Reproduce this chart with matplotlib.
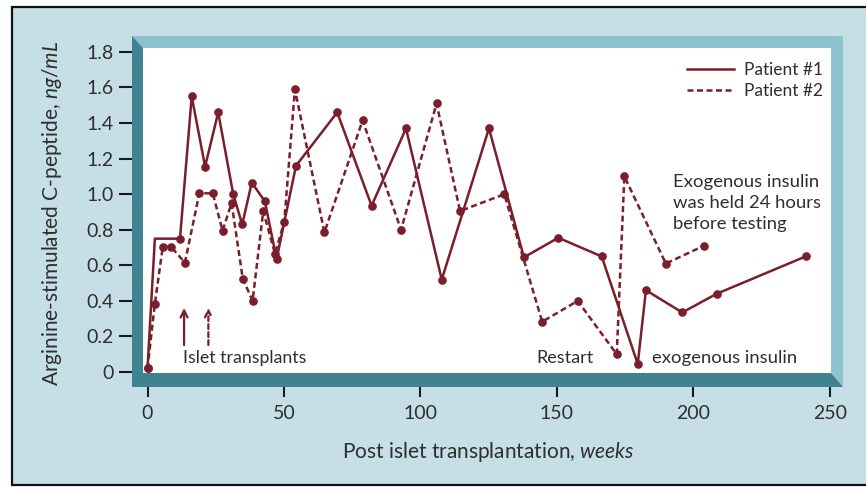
"""Arginine-stimulated C-peptide after islet transplantation, two patients."""

import matplotlib
matplotlib.use('Agg')
import matplotlib.pyplot as plt
from matplotlib.patches import Polygon, Rectangle

# weeks / ng/mL
P1_WEEKS = [0, 2.7, 11.9, 16.2, 21.1, 25.9, 31.4, 34.7, 38.2, 43.0, 47.3, 54.4, 69.5, 82.1, 94.7,
            107.8, 125.1, 137.9, 150.5, 166.4, 179.6, 182.6, 195.9, 208.5, 241.1]
P1_CPEP = [0.02, 0.75, 0.75, 1.55, 1.155, 1.46, 1.0, 0.83, 1.065, 0.96, 0.635, 1.16, 1.46, 0.935, 1.37,
           0.52, 1.37, 0.645, 0.755, 0.65, 0.045, 0.46, 0.335, 0.44, 0.65]
P2_WEEKS = [0, 2.7, 5.6, 8.6, 13.7, 19.0, 23.9, 27.5, 30.8, 34.9, 38.5, 42.4, 46.7, 50.1, 54.0, 64.8,
            78.8, 92.9, 105.9, 114.5, 130.7, 144.6, 157.6, 171.9, 174.7, 189.9, 203.8]
P2_CPEP = [0.02, 0.385, 0.705, 0.705, 0.615, 1.005, 1.005, 0.795, 0.95, 0.525, 0.40, 0.905, 0.665, 0.845,
           1.59, 0.785, 1.415, 0.80, 1.51, 0.905, 1.0, 0.283, 0.40, 0.10, 1.10, 0.61, 0.71]
TRANSPLANT_WEEKS = [13.4, 22.3]   # solid = patient 1, dashed = patient 2

X_TICKS = [0, 50, 100, 150, 200, 250]
Y_TICKS = [0, 0.2, 0.4, 0.6, 0.8, 1.0, 1.2, 1.4, 1.6, 1.8]
Y_TICK_LABELS = ['0', '0.2', '0.4', '0.6', '0.8', '1.0', '1.2', '1.4', '1.6', '1.8']

RED = '#7b1e2b'
TEXT = '#2e2e2e'
BG = '#c6dfe6'
BEVEL_LIGHT = '#8cc3ce'
BEVEL_DARK = '#3f8390'
DASH = (0, (2.4, 1.4))

W, H = 866, 487

plt.rcParams['font.family'] = ['Lato', 'DejaVu Sans']
plt.rcParams['mathtext.fontset'] = 'custom'
plt.rcParams['mathtext.rm'] = 'Lato'
plt.rcParams['mathtext.it'] = 'Lato:italic'


def px(x, y):
    # pixel position (y down) -> figure fraction
    return (x / W, 1 - y / H)


fig = plt.figure(figsize=(W / 100, H / 100), dpi=100, facecolor='white')
fig.patches.append(Rectangle(px(12, 485), 1.0, (485 - 7) / H, transform=fig.transFigure,
                             facecolor=BG, edgecolor='#111111', linewidth=1.6, zorder=-10))

left, top, right, bottom = 143.3, 48, 831, 373.3
ax = fig.add_axes([left / W, 1 - bottom / H, (right - left) / W, (bottom - top) / H])
ax.set_facecolor('white')
ax.set_xlim(-1.54, 250.4)
ax.set_ylim(-0.007, 1.822)
for s in ax.spines.values():
    s.set_visible(False)

ax.plot(P1_WEEKS, P1_CPEP, color=RED, lw=1.8, marker='o', ms=5.2,
        markevery=[i for i in range(len(P1_WEEKS)) if i != 1], label='Patient #1')
ax.plot(P2_WEEKS, P2_CPEP, color=RED, lw=1.8, ls=DASH, marker='o', ms=5.2, label='Patient #2')

ax.set_xticks(X_TICKS)
ax.set_yticks(Y_TICKS)
ax.set_yticklabels(Y_TICK_LABELS)
ax.tick_params(axis='both', length=17.3, width=1.5, color='#1a1a1a', labelsize=14, labelcolor=TEXT)
ax.tick_params(axis='y', pad=4.3)
ax.tick_params(axis='x', pad=5.5)

# arrows marking the transplants
ax.annotate('', xy=(TRANSPLANT_WEEKS[0], 0.36), xytext=(TRANSPLANT_WEEKS[0], 0.152),
            arrowprops=dict(arrowstyle='->,head_length=0.5,head_width=0.25', color=RED, lw=1.6,
                            shrinkA=0, shrinkB=0))
ax.annotate('', xy=(TRANSPLANT_WEEKS[1], 0.36), xytext=(TRANSPLANT_WEEKS[1], 0.152),
            arrowprops=dict(arrowstyle='->,head_length=0.5,head_width=0.25', color=RED, lw=1.6,
                            ls=(0, (2.2, 1.4)), shrinkA=0, shrinkB=0))

ax.text(13.0, 0.08, 'Islet transplants', fontsize=12.8, color=TEXT, ha='left', va='center')
ax.text(142.3, 0.08, 'Restart', fontsize=13, color=TEXT, ha='left', va='center')
ax.text(184.7, 0.08, 'exogenous insulin', fontsize=13.3, color=TEXT, ha='left', va='center')
ax.text(192.5, 0.95, 'Exogenous insulin\nwas held 24 hours\nbefore testing', fontsize=13.3,
        color=TEXT, ha='left', va='center', linespacing=1.38)

ax.legend(loc='upper left', bbox_to_anchor=(0.79, 0.958), frameon=False, fontsize=12.5,
          handlelength=2.75, handletextpad=0.55, borderpad=0, borderaxespad=0, labelspacing=0.32,
          labelcolor=TEXT)
for h in ax.get_legend().legend_handles:
    h.set_marker('')

# beveled frame around the plot area, drawn over the inner part of the ticks
light = [(132, 36), (843, 36), (831, 48), (143, 48)]
light_r = [(843, 36), (843, 387), (831, 373), (831, 48)]
dark = [(132, 36), (143, 48), (143, 373), (831, 373), (843, 387), (132, 387)]
for pts, col in [(light, BEVEL_LIGHT), (light_r, BEVEL_LIGHT), (dark, BEVEL_DARK)]:
    fig.patches.append(Polygon([px(*p) for p in pts], closed=True, transform=fig.transFigure,
                               facecolor=col, edgecolor='none', zorder=2))

fig.text(*px(488, 452), 'Post islet transplantation, $\\it{weeks}$', fontsize=15, color=TEXT,
         ha='center', va='center')
fig.text(*px(52, 213), 'Arginine-stimulated C-peptide, $\\it{ng/mL}$', fontsize=15, color=TEXT,
         ha='center', va='center', rotation=90)

fig.savefig('out.png', dpi=100, facecolor='white')
